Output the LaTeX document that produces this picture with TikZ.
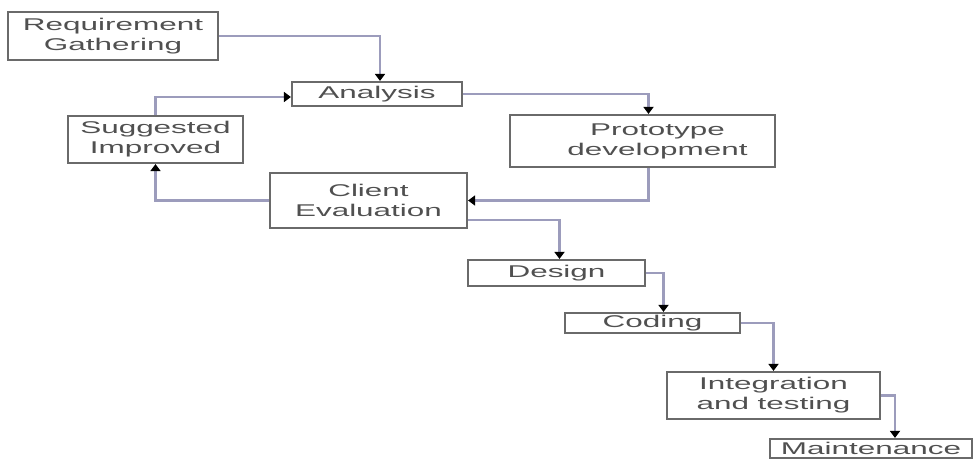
\documentclass[tikz,border=0pt]{standalone}
\usepackage{fontspec}
\newfontfamily\boxfont[FakeStretch=1.85]{Liberation Sans}
\usetikzlibrary{arrows.meta}
\definecolor{boxline}{HTML}{6A6A6A}
\definecolor{boxtext}{HTML}{505050}
\definecolor{flowline}{HTML}{9C9CBC}
\tikzset{
  stage/.style={draw=boxline, line width=2.2pt, rectangle, inner sep=0pt,
    align=center, text=boxtext, font=\boxfont\fontsize{17}{20}\selectfont},
  flow/.style={draw=flowline, line width=2.2pt,
    -{Triangle[length=7pt,width=10pt,color=black]}},
}
\begin{document}
\begin{tikzpicture}[x=1pt,y=-1pt]
\useasboundingbox (0,0) rectangle (975,462);

% process stages
\node[stage, minimum width=210, minimum height=48] (rg) at (113,36) {Requirement\\Gathering};
\node[stage, minimum width=170, minimum height=24] (an) at (377,94) {Analysis};
\node[stage, minimum width=265, minimum height=52] (pr) at (642.5,141) {\hspace*{30pt}Prototype\\\hspace*{30pt}development};
\node[stage, minimum width=175, minimum height=47] (si) at (155.5,139.5) {Suggested\\Improved};
\node[stage, minimum width=197, minimum height=55] (ce) at (368.5,200.5) {Client\\Evaluation};
\node[stage, minimum width=177, minimum height=26] (de) at (556.5,273) {Design};
\node[stage, minimum width=175, minimum height=20] (co) at (652.5,323) {Coding};
\node[stage, minimum width=213, minimum height=47] (in) at (773.5,395.5) {Integration\\and testing};
\node[stage, minimum width=202, minimum height=19] (ma) at (871,448.5) {Maintenance};

% connectors
\draw[flow] (rg.east) -| ([xshift=3pt]an.north);
\draw[flow] (an.east) -| ([xshift=6pt]pr.north);
\draw[flow] ([xshift=6pt]pr.south) |- (ce.east);
\draw[flow] (ce.west) -| (si.south);
\draw[flow] (si.north) |- ([yshift=-3pt]an.west);
\draw[flow] ([yshift=-19.5pt]ce.east) -| ([xshift=3pt]de.north);
\draw[flow] (de.east) -| ([xshift=11pt]co.north);
\draw[flow] (co.east) -| (in.north);
\draw[flow] (in.east) -| ([xshift=24pt]ma.north);
\end{tikzpicture}
\end{document}
